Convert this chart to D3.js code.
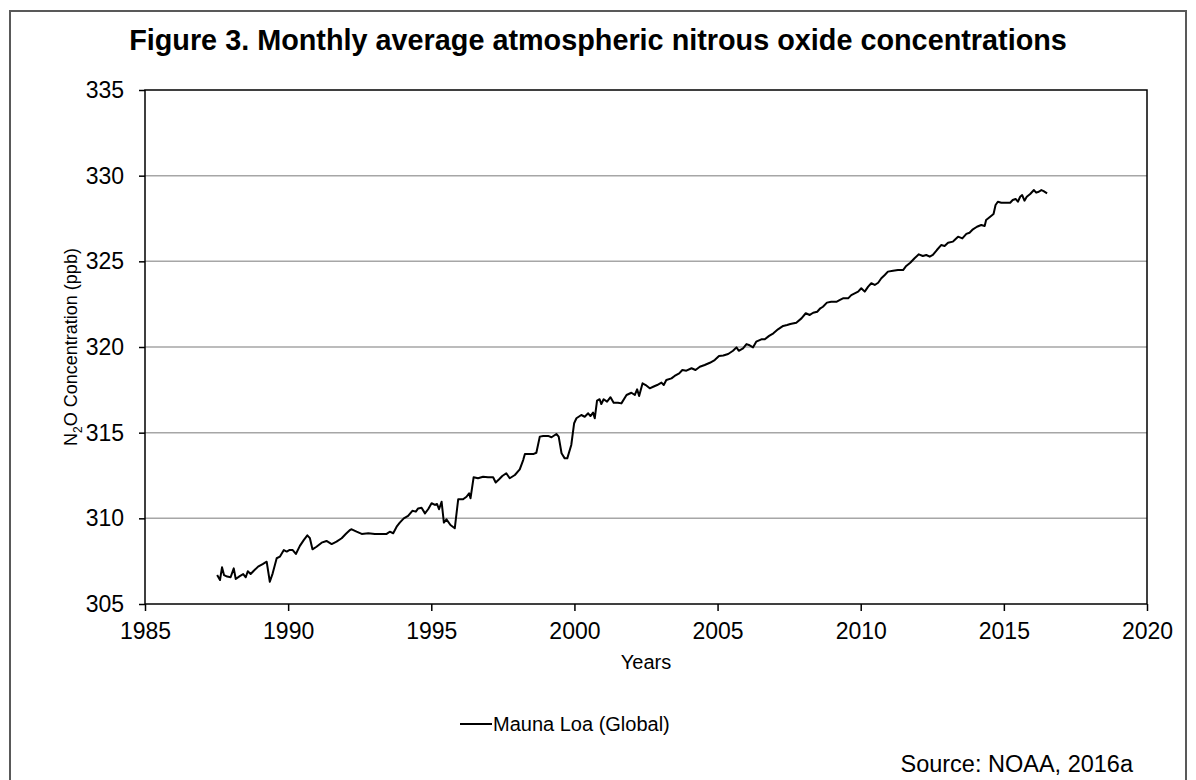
<!DOCTYPE html>
<html>
<head>
<meta charset="utf-8">
<script src="https://cdn.jsdelivr.net/npm/d3@7"></script>
<style>
  body { margin: 0; background: #fff; }
  svg { display: block; font-family: "Liberation Sans", Arial, sans-serif; }
</style>
</head>
<body>
<svg id="chart" width="1196" height="780"></svg>
<script>
// values (decimal year, ppb)
var years = [
  1987.52,1987.62,1987.69,1987.76,1987.87,1987.99,1988.10,1988.17,1988.31,1988.43,
  1988.52,1988.59,1988.69,1988.80,1988.95,1989.11,1989.25,1989.36,1989.46,1989.60,
  1989.71,1989.85,1989.95,1990.04,1990.16,1990.27,1990.41,1990.55,1990.67,1990.76,
  1990.85,1990.99,1991.17,1991.34,1991.52,1991.69,1991.87,1992.02,1992.16,1992.22,
  1992.39,1992.57,1992.80,1993.03,1993.27,1993.44,1993.55,1993.67,1993.79,1993.90,
  1994.04,1994.19,1994.34,1994.46,1994.54,1994.66,1994.78,1994.89,1995.01,1995.13,
  1995.20,1995.27,1995.36,1995.44,1995.53,1995.67,1995.82,1995.94,1996.11,1996.23,
  1996.32,1996.37,1996.48,1996.63,1996.81,1996.98,1997.16,1997.25,1997.37,1997.48,
  1997.62,1997.74,1997.92,1998.09,1998.21,1998.27,1998.42,1998.56,1998.67,1998.79,
  1998.91,1999.08,1999.20,1999.37,1999.45,1999.55,1999.66,1999.75,1999.89,1999.99,
  2000.07,2000.24,2000.36,2000.48,2000.56,2000.65,2000.71,2000.79,2000.88,2000.94,
  2001.02,2001.14,2001.26,2001.37,2001.52,2001.64,2001.82,2001.99,2002.11,2002.19,
  2002.26,2002.38,2002.49,2002.63,2002.75,2002.89,2003.04,2003.12,2003.21,2003.39,
  2003.50,2003.66,2003.77,2003.91,2004.09,2004.23,2004.38,2004.55,2004.73,2004.90,
  2005.05,2005.20,2005.37,2005.54,2005.66,2005.74,2005.89,2006.01,2006.12,2006.24,
  2006.35,2006.53,2006.65,2006.80,2006.95,2007.11,2007.29,2007.43,2007.54,2007.75,
  2007.93,2008.08,2008.22,2008.34,2008.48,2008.59,2008.68,2008.82,2008.97,2009.15,
  2009.26,2009.38,2009.56,2009.67,2009.79,2009.91,2010.02,2010.14,2010.26,2010.37,
  2010.49,2010.61,2010.72,2010.84,2010.95,2011.13,2011.30,2011.48,2011.59,2011.73,
  2011.88,2012.03,2012.17,2012.29,2012.41,2012.52,2012.66,2012.81,2012.93,2013.05,
  2013.22,2013.28,2013.40,2013.55,2013.69,2013.80,2013.92,2014.06,2014.21,2014.33,
  2014.38,2014.50,2014.64,2014.71,2014.79,2014.91,2015.08,2015.22,2015.31,2015.41,
  2015.49,2015.57,2015.64,2015.72,2015.80,2015.92,2016.05,2016.13,2016.22,2016.31,
  2016.39,2016.51
];
var maunaLoa = [
  306.69,306.40,307.14,306.69,306.60,306.56,307.08,306.46,306.63,306.75,
  306.56,306.91,306.75,306.94,307.18,307.33,307.47,306.30,306.79,307.67,
  307.76,308.15,308.06,308.15,308.15,307.92,308.39,308.74,309.01,308.84,
  308.19,308.34,308.58,308.68,308.50,308.64,308.84,309.10,309.32,309.36,
  309.22,309.09,309.13,309.09,309.09,309.09,309.22,309.13,309.51,309.75,
  310.00,310.14,310.44,310.39,310.58,310.62,310.29,310.53,310.88,310.78,
  310.84,310.53,310.97,309.75,309.94,309.61,309.42,311.11,311.11,311.26,
  311.46,311.17,312.40,312.34,312.43,312.40,312.40,312.09,312.28,312.47,
  312.63,312.34,312.53,312.86,313.40,313.75,313.75,313.75,313.83,314.77,
  314.81,314.81,314.73,314.92,314.77,313.80,313.50,313.50,314.28,315.55,
  315.84,316.03,315.93,316.13,315.97,316.17,315.84,316.87,316.95,316.67,
  316.95,316.81,317.07,316.75,316.75,316.71,317.20,317.33,317.20,317.53,
  317.14,317.88,317.78,317.59,317.68,317.78,317.92,317.78,318.07,318.17,
  318.31,318.46,318.66,318.62,318.76,318.66,318.85,318.95,319.08,319.24,
  319.47,319.50,319.59,319.78,319.98,319.78,319.92,320.17,320.10,319.98,
  320.31,320.45,320.45,320.65,320.80,321.03,321.23,321.28,321.34,321.42,
  321.67,321.97,321.87,322.00,322.06,322.26,322.35,322.59,322.64,322.64,
  322.74,322.84,322.84,323.03,323.13,323.23,323.43,323.23,323.52,323.72,
  323.62,323.75,324.01,324.20,324.40,324.45,324.49,324.49,324.73,324.92,
  325.18,325.41,325.31,325.37,325.27,325.37,325.66,325.95,325.90,326.09,
  326.15,326.25,326.44,326.34,326.60,326.67,326.87,327.02,327.12,327.06,
  327.41,327.57,327.76,328.29,328.48,328.42,328.42,328.42,328.58,328.64,
  328.48,328.77,328.87,328.54,328.77,328.93,329.16,329.01,329.06,329.16,
  329.10,328.97
];
var xTicks = [1985, 1990, 1995, 2000, 2005, 2010, 2015, 2020];
var yTicks = [305, 310, 315, 320, 325, 330, 335];
var gridValues = [310, 315, 320, 325, 330];

var svg = d3.select('#chart');

// outer frame
svg.append('rect')
  .attr('x', 10).attr('y', 11)
  .attr('width', 1176).attr('height', 790)
  .attr('fill', 'none')
  .attr('stroke', '#595959')
  .attr('stroke-width', 2);

svg.append('text')
  .attr('x', 598).attr('y', 50)
  .attr('text-anchor', 'middle')
  .style('font-size', '28.8px')
  .style('font-weight', 'bold')
  .text('Figure 3. Monthly average atmospheric nitrous oxide concentrations');

const plotLeft = 145, plotRight = 1147, plotTop = 90, plotBottom = 604;

var x = d3.scaleLinear().domain([1985, 2020]).range([plotLeft, plotRight]);
var y = d3.scaleLinear().domain([305, 335]).range([plotBottom, plotTop]);

// gridlines
svg.append('g')
  .selectAll('line')
  .data(gridValues)
  .enter().append('line')
  .attr('x1', plotLeft).attr('x2', plotRight)
  .attr('y1', d => y(d)).attr('y2', d => y(d))
  .style('stroke', '#a6a6a6')
  .style('stroke-width', 1.5);

// plot frame
svg.append('rect')
  .attr('x', plotLeft).attr('y', plotTop)
  .attr('width', plotRight - plotLeft).attr('height', plotBottom - plotTop)
  .attr('fill', 'none')
  .attr('stroke', '#000')
  .attr('stroke-width', 1.5);

const xAxis = svg.append('g')
  .attr('transform', 'translate(0,' + plotBottom + ')')
  .call(d3.axisBottom(x).tickValues(xTicks).tickFormat(d3.format('d')).tickSize(7).tickPadding(12));
const yAxis = svg.append('g')
  .attr('transform', 'translate(' + plotLeft + ',0)')
  .call(d3.axisLeft(y).tickValues(yTicks).tickFormat(d3.format('d')).tickSize(6).tickPadding(15));

[xAxis, yAxis].forEach(function(ax) {
  ax.select('.domain').remove();
  ax.selectAll('line').style('stroke', '#000').style('stroke-width', 1.5);
  ax.selectAll('text')
    .style('font-size', '23px')
    .style('font-family', '"Liberation Sans", Arial, sans-serif')
    .style('fill', '#000');
});

// the series
var points = years.map((yr, i) => [yr, maunaLoa[i]]);
var line = d3.line().x(d => x(d[0])).y(d => y(d[1]));
svg.append('path')
  .datum(points)
  .attr('d', line)
  .attr('fill', 'none')
  .style('stroke', '#000')
  .style('stroke-width', 2)
  .style('stroke-linejoin', 'round');

// axis titles
svg.append('text')
  .attr('x', (plotLeft + plotRight) / 2).attr('y', 669)
  .attr('text-anchor', 'middle')
  .style('font-size', '20px')
  .text('Years');

var yTitle = svg.append('text')
  .attr('transform', 'translate(77,' + ((plotTop + plotBottom) / 2) + ') rotate(-90)')
  .attr('text-anchor', 'middle')
  .style('font-size', '18px');
yTitle.append('tspan').text('N');
yTitle.append('tspan').attr('dy', 5).style('font-size', '12px').text('2');
yTitle.append('tspan').attr('dy', -5).text('O Concentration (ppb)');

// legend
svg.append('line')
  .attr('x1', 460).attr('x2', 492)
  .attr('y1', 724).attr('y2', 724)
  .style('stroke', '#000')
  .style('stroke-width', 2);
svg.append('text')
  .attr('x', 493).attr('y', 731)
  .style('font-size', '20px')
  .text('Mauna Loa (Global)');

svg.append('text')
  .attr('x', 1133).attr('y', 772)
  .attr('text-anchor', 'end')
  .style('font-size', '23.5px')
  .text('Source: NOAA, 2016a');
</script>
</body>
</html>
